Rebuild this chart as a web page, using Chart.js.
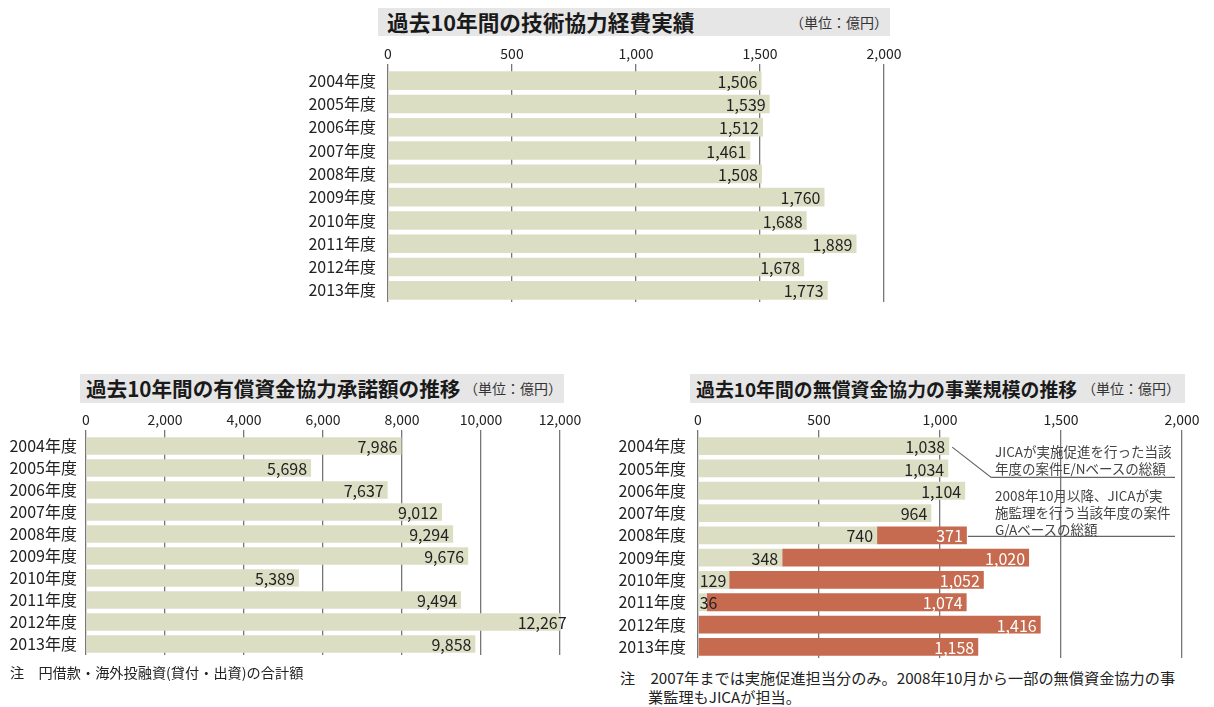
<!DOCTYPE html>
<html><head><meta charset="utf-8">
<script src="https://cdn.jsdelivr.net/npm/chart.js@4.4.0/dist/chart.umd.min.js"></script>
<style>
html,body{margin:0;padding:0;background:#fff;width:1214px;height:707px;overflow:hidden;font-family:"Noto Sans CJK JP","Noto Sans",sans-serif;color:#222}
.box{position:absolute;background:#e6e6e6;}
.title{position:absolute;font-weight:bold;white-space:nowrap;color:#1a1a1a}
.unit{position:absolute;font-size:14px;color:#333;white-space:nowrap}
canvas{position:absolute}
.note{position:absolute;white-space:nowrap;color:#222;line-height:20px}
.ann{position:absolute;font-size:13.5px;line-height:17px;color:#444;white-space:nowrap}
</style></head>
<body>
<div class="box" style="left:378px;top:8px;width:512px;height:28px"></div>
<div class="title" style="left:387px;top:8px;font-size:21.7px;line-height:28px">過去10年間の技術協力経費実績</div>
<div class="unit" style="left:790px;top:8px;line-height:28px">（単位：億円）</div>

<div class="box" style="left:80px;top:374px;width:484px;height:29px"></div>
<div class="title" style="left:86px;top:374px;font-size:20.6px;line-height:29px">過去10年間の有償資金協力承諾額の推移</div>
<div class="unit" style="left:464px;top:374px;line-height:29px">（単位：億円）</div>

<div class="box" style="left:690px;top:374px;width:495px;height:29px"></div>
<div class="title" style="left:696px;top:374px;font-size:18.9px;line-height:29px">過去10年間の無償資金協力の事業規模の推移</div>
<div class="unit" style="left:1082px;top:374px;line-height:29px">（単位：億円）</div>

<canvas id="c1" width="620" height="270" style="left:290px;top:40px"></canvas>
<canvas id="c2" width="600" height="260" style="left:0px;top:405px"></canvas>
<canvas id="c3" width="614" height="260" style="left:600px;top:405px"></canvas>

<div class="ann" style="left:995px;top:443px">JICAが実施促進を行った当該<br>年度の案件E/Nベースの総額</div>
<div class="ann" style="left:995px;top:487px">2008年10月以降、JICAが実<br>施監理を行う当該年度の案件<br>G/Aベースの総額</div>

<div class="note" style="left:10px;top:662px;font-size:14.2px">注　円借款・海外投融資(貸付・出資)の合計額</div>
<div class="note" style="left:620px;top:667px;font-size:15.2px">注　2007年までは実施促進担当分のみ。2008年10月から一部の無償資金協力の事</div>
<div class="note" style="left:648px;top:686px;font-size:15.2px">業監理もJICAが担当。</div>

<script>
const years = ['2004年度','2005年度','2006年度','2007年度','2008年度','2009年度','2010年度','2011年度','2012年度','2013年度'];
const techValues = [1506,1539,1512,1461,1508,1760,1688,1889,1678,1773];
const techTicks = [0,500,1000,1500,2000];
const loanValues = [7986,5698,7637,9012,9294,9676,5389,9494,12267,9858];
const loanTicks = [0,2000,4000,6000,8000,10000,12000];
const grantPromotion = [1038,1034,1104,964,740,348,129,36,null,null];
const grantSupervision = [null,null,null,null,371,1020,1052,1074,1416,1158];
const grantTicks = [0,500,1000,1500,2000];

const BEIGE = '#dcdec4', RED = '#c66a50', GRID = '#777';
const FONT = '"Noto Sans CJK JP", "Noto Sans", sans-serif';
const fmt = v => Number(v).toLocaleString('en-US');

const valueLabels = {
  id: 'valueLabels',
  afterDatasetsDraw(chart) {
    const ctx = chart.ctx; ctx.save();
    ctx.font = '16px ' + FONT; ctx.textAlign = 'right'; ctx.textBaseline = 'middle';
    chart.data.datasets.forEach((ds, i) => {
      const meta = chart.getDatasetMeta(i);
      meta.data.forEach((bar, j) => {
        const v = ds.data[j]; if (v == null) return;
        const t = fmt(v); const w = ctx.measureText(t).width;
        const left = Math.min(bar.base, bar.x);
        let x = bar.x - 4;
        if (x - w < left + 1) x = left + 1 + w;
        ctx.fillStyle = ds.labelColor || '#222';
        ctx.fillText(t, x, bar.y + 1);
      });
    });
    ctx.restore();
  }
};

const leaders = {
  id: 'leaders',
  afterDraw(chart) {
    if (chart.canvas.id !== 'c3') return;
    const ctx = chart.ctx;
    const m0 = chart.getDatasetMeta(0), m1 = chart.getDatasetMeta(1);
    const a = m0.data[0], c = m0.data[1], b = m1.data[4];
    const endX = chart.width - 39;
    ctx.save(); ctx.strokeStyle = '#666'; ctx.lineWidth = 1.2;
    ctx.beginPath(); ctx.moveTo(a.x + 3, a.y + 1); ctx.lineTo(a.x + 42, c.y + 9); ctx.lineTo(endX, c.y + 9); ctx.stroke();
    ctx.beginPath(); ctx.moveTo(b.x + 1, b.y + 1); ctx.lineTo(endX, b.y + 1); ctx.stroke();
    ctx.restore();
  }
};

function makeChart(id, datasets, ticks, opts) {
  return new Chart(document.getElementById(id), {
    type: 'bar',
    data: { labels: years, datasets },
    options: {
      indexAxis: 'y', responsive: false, animation: false,
      layout: { padding: { left: 0, right: opts.right, top: 0, bottom: opts.bottom } },
      plugins: { legend: { display: false }, tooltip: { enabled: false } },
      datasets: { bar: { categoryPercentage: 1, barPercentage: 0.8 } },
      scales: {
        x: {
          position: 'top', min: ticks[0], max: ticks[ticks.length - 1], stacked: true,
          afterBuildTicks: s => { s.ticks = ticks.map(v => ({ value: v })); },
          ticks: { font: { family: FONT, size: 14 }, color: '#222', padding: 2, maxRotation: 0, autoSkip: false, callback: v => fmt(v) },
          grid: { color: GRID, lineWidth: 1.3, tickLength: 5, drawTicks: true },
          border: { display: false },
          afterFit: s => { s.height = opts.xh; s.paddingLeft = 0; s.paddingRight = 0; }
        },
        y: {
          stacked: true,
          grid: { display: false, drawTicks: false },
          border: { display: false },
          ticks: { font: { family: FONT, size: 16 }, color: '#222', padding: opts.ypad, autoSkip: false },
          afterFit: s => { s.width = opts.yw; s.paddingTop = 0; s.paddingBottom = 0; }
        }
      }
    },
    plugins: [valueLabels, leaders]
  });
}

makeChart('c1', [{ data: techValues, backgroundColor: BEIGE, labelColor: '#222' }], techTicks,
  { yw: 98, xh: 29, right: 26, bottom: 8, ypad: 12 });
makeChart('c2', [{ data: loanValues, backgroundColor: BEIGE, labelColor: '#222' }], loanTicks,
  { yw: 86, xh: 30, right: 40, bottom: 10, ypad: 9 });
makeChart('c3', [
  { data: grantPromotion, backgroundColor: BEIGE, labelColor: '#222' },
  { data: grantSupervision, backgroundColor: RED, labelColor: '#fff' }
], grantTicks, { yw: 98, xh: 30, right: 32, bottom: 7, ypad: 12 });
</script>
</body></html>
